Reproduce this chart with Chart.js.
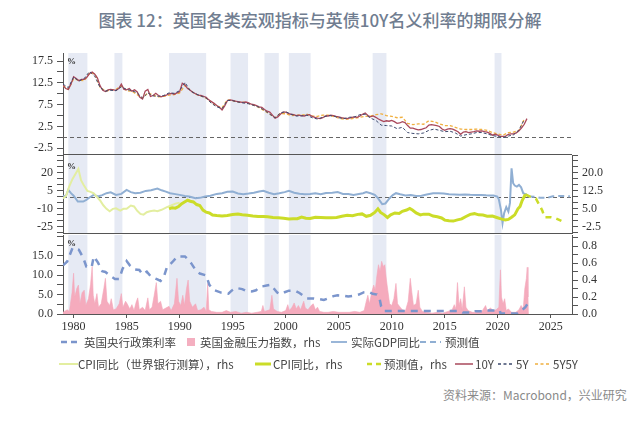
<!DOCTYPE html>
<html><head><meta charset="utf-8">
<script src="https://cdn.jsdelivr.net/npm/chart.js@4/dist/chart.umd.min.js"></script>
<style>
html,body{margin:0;padding:0;background:#fff;width:640px;height:428px;overflow:hidden;position:relative;font-family:"Noto Sans CJK SC","Noto Sans",sans-serif;}
#title{position:absolute;left:0;top:8px;width:640px;text-align:center;font-size:17px;color:#707d90;font-weight:500;line-height:24px;}
canvas{position:absolute;left:0;}
.lg{position:absolute;font-size:11.5px;color:#444;line-height:14px;white-space:nowrap;}
svg.mk{position:absolute;}
#src{position:absolute;left:443px;top:387px;font-size:12px;color:#8a8a8a;line-height:16px;white-space:nowrap;}
</style></head>
<body>
<div id="title">图表 12：英国各类宏观指标与英债10Y名义利率的期限分解</div>
<canvas id="c1" width="640" height="102" style="top:53px"></canvas>
<canvas id="c2" width="640" height="79" style="top:155px"></canvas>
<canvas id="c3" width="640" height="100" style="top:235px"></canvas>

<svg class="mk" style="left:61px;top:337px" width="18" height="10"><line x1="0" y1="5" x2="18" y2="5" stroke="#7b95cc" stroke-width="2.5" stroke-dasharray="6,4"/></svg>
<div class="lg" style="left:84px;top:335px">英国央行政策利率</div>
<div style="position:absolute;left:187px;top:338px;width:8px;height:8px;background:#f4afc0"></div>
<div class="lg" style="left:200px;top:335px">英国金融压力指数，rhs</div>
<svg class="mk" style="left:331px;top:337px" width="16" height="10"><line x1="0" y1="5" x2="16" y2="5" stroke="#9ab6d8" stroke-width="2"/></svg>
<div class="lg" style="left:351px;top:335px">实际GDP同比</div>
<svg class="mk" style="left:420px;top:337px" width="21" height="10"><line x1="0" y1="5" x2="21" y2="5" stroke="#90afd3" stroke-width="2" stroke-dasharray="6,4"/></svg>
<div class="lg" style="left:445px;top:335px">预测值</div>

<svg class="mk" style="left:59px;top:359px" width="19" height="10"><line x1="0" y1="5" x2="19" y2="5" stroke="#e3eea0" stroke-width="2"/></svg>
<div class="lg" style="left:78px;top:357px">CPI同比（世界银行测算），rhs</div>
<svg class="mk" style="left:255px;top:359px" width="16" height="10"><line x1="0" y1="5" x2="16" y2="5" stroke="#cbdc28" stroke-width="3"/></svg>
<div class="lg" style="left:273px;top:357px">CPI同比，rhs</div>
<svg class="mk" style="left:367px;top:359px" width="15" height="10"><line x1="0" y1="5" x2="15" y2="5" stroke="#cbdc28" stroke-width="2.5" stroke-dasharray="5,4"/></svg>
<div class="lg" style="left:384px;top:357px">预测值，rhs</div>
<svg class="mk" style="left:455px;top:359px" width="18" height="10"><line x1="0" y1="5" x2="18" y2="5" stroke="#a9485b" stroke-width="1.5"/></svg>
<div class="lg" style="left:475px;top:357px">10Y</div>
<svg class="mk" style="left:498px;top:359px" width="16" height="10"><line x1="0" y1="5" x2="16" y2="5" stroke="#3d4a6e" stroke-width="1.5" stroke-dasharray="3,2.5"/></svg>
<div class="lg" style="left:516px;top:357px">5Y</div>
<svg class="mk" style="left:535px;top:359px" width="16" height="10"><line x1="0" y1="5" x2="16" y2="5" stroke="#f0b040" stroke-width="1.5" stroke-dasharray="3,2.5"/></svg>
<div class="lg" style="left:553px;top:357px">5Y5Y</div>

<div id="src">资料来源：Macrobond，兴业研究</div>

<script>
// ---------- shared x / shading ----------
const xTickYears = [1980,1985,1990,1995,2000,2005,2010,2015,2020,2025];
const shadeStart = [1979.5,1983.85,1989.0,1994.8,1998.0,2000.3,2008.2,2019.7];
const shadeEnd   = [1981.3,1984.6,1992.5,1996.45,1999.35,2002.35,2009.5,2020.35];

// ---------- top panel: yields (%) ----------
const y10 = [
12.0,11.2,11.0,12.2, 13.9,13.5,13.0,13.3, 13.3,13.8,14.6,15.0, 14.5,13.6,11.8,10.8,
10.5,10.9,11.0,10.9, 10.8,11.2,12.2,11.0, 10.9,11.2,10.6,10.9, 10.4,9.2,8.8,10.6,
11.0,9.4,9.6,10.1, 9.6,9.3,9.5,9.7, 10.0,10.1,9.9,10.2, 10.5,12.4,12.0,11.2,
10.8,10.3,10.0,9.7, 9.6,9.4,9.2,8.6, 8.2,7.8,7.3,6.9, 6.3,7.2,8.4,8.6,
8.5,8.3,8.2,8.1, 8.0,8.1,7.9,7.6, 7.5,7.3,7.0,6.9, 6.4,6.0,5.8,5.1,
4.4,4.7,5.3,5.8, 5.8,5.5,5.3,5.2, 5.0,5.1,5.0,4.9, 5.1,5.2,4.8,4.6,
4.4,4.3,4.5,4.9, 4.9,5.1,5.0,4.8, 4.7,4.5,4.4,4.3, 4.4,4.6,4.7,4.6,
4.9,5.3,5.6,5.0, 4.7,4.9,4.6,4.2, 3.9,3.6,3.8,3.7, 3.9,3.6,3.2,3.3,
3.6,3.4,2.7,2.1, 2.1,1.9,1.7,1.8, 2.0,2.2,2.8,2.9, 2.8,2.7,2.5,1.9,
1.6,1.9,2.0,1.9, 1.6,1.3,0.7,1.2, 1.3,1.1,1.2,1.3, 1.5,1.4,1.5,1.3,
1.2,0.9,0.5,0.7, 0.5,0.2,0.2,0.3, 0.7,0.8,0.8,1.0, 1.5,2.2,3.0,4.3];
const y5 = [
12.2,11.4, 13.8,12.9, 13.5,15.1, 14.0,11.4, 10.6,10.8, 10.7,11.6, 11.0,10.7, 10.2,9.0,
10.2,9.5, 9.4,9.6, 10.2,10.1, 10.7,12.6, 10.7,10.0, 9.5,9.0, 7.8,7.0, 6.6,8.5,
8.4,8.1, 7.9,7.7, 7.3,6.9, 6.2,5.3, 4.5,5.6, 5.9,5.3, 4.9,4.9, 5.1,4.5,
4.2,4.6, 5.0,4.9, 4.5,4.3, 4.6,4.7, 5.2,5.3, 4.4,3.9, 2.8,2.7, 2.6,2.0,
2.3,1.1, 0.9,0.8, 1.0,1.6, 1.9,1.6, 1.3,1.4, 1.0,0.3, 0.6,0.8, 1.1,1.1,
0.8,0.4, 0.2,-0.05, 0.3,0.6, 1.7,4.1];
const y5y5 = [
11.8,11.0, 13.4,13.1, 13.0,14.7, 14.6,11.5, 10.6,10.9, 11.0,11.8, 10.7,10.6, 9.8,9.0,
10.2,9.7, 9.3,9.4, 9.7,9.8, 10.2,11.9, 10.8,9.9, 9.5,9.0, 8.0,7.2, 6.8,8.6,
8.4,8.1, 8.1,7.8, 7.4,6.8, 6.1,5.3, 4.5,5.5, 5.4,5.0, 5.1,5.1, 5.3,4.9,
4.8,5.1, 5.1,4.8, 4.4,4.2, 4.2,4.4, 4.6,4.8, 4.9,5.2, 5.4,5.0, 4.8,4.5,
4.6,3.2, 2.9,3.1, 3.0,3.8, 3.6,3.1, 2.7,2.7, 2.3,1.9, 1.8,1.8, 1.9,1.8,
1.6,1.1, 0.8,0.5, 1.1,1.2, 1.6,4.2];
const topTicks = [-2.5,0,2.5,5,7.5,10,12.5,15,17.5];
const topLabels = [-2.5,2.5,7.5,12.5,17.5];

// ---------- middle panel ----------
const gdpYears = [1979.0,1979.25,1979.5,1979.75,1980.0,1980.4,1980.9,1981.2,1981.5,1981.9,1982.3,1982.7,1983.1,1983.5,1984.0,1984.5,1985.0,1985.4,1985.8,1986.3,1986.8,1987.3,1987.9,1988.3,1988.7,1989.1,1989.6,1990.0,1990.5,1990.9,1991.5,1991.9,1992.4,1992.9,1993.5,1994.0,1994.5,1995.0,1995.5,1996.0,1996.5,1997.0,1997.5,1997.9,1998.4,1998.9,1999.4,1999.9,2000.3,2000.8,2001.3,2001.8,2002.3,2002.8,2003.3,2003.8,2004.4,2004.9,2005.4,2005.9,2006.4,2006.9,2007.3,2007.6,2008.0,2008.4,2008.7,2009.1,2009.4,2009.8,2010.1,2010.4,2010.8,2011.3,2011.8,2012.3,2012.8,2013.3,2013.9,2014.4,2014.9,2015.4,2015.9,2016.4,2016.9,2017.4,2017.9,2018.4,2018.9,2019.2,2019.6,2019.95,2020.1,2020.3,2020.45,2020.6,2020.8,2021.0,2021.15,2021.3,2021.45,2021.6,2021.8,2022.0,2022.2,2022.4,2022.7,2022.9];
const gdpValues = [1.0,0.3,5.8,3.1,1.0,-3.9,-3.9,-2.5,-0.5,1.7,0.3,1.5,3.1,3.8,1.7,2.5,5.8,4.0,3.1,3.5,5.0,5.5,7.0,5.5,4.4,3.1,2.3,1.7,0.8,0.3,-1.1,-0.8,0.3,1.0,2.5,3.1,4.2,4.4,2.8,2.3,2.8,3.5,4.5,5.1,3.5,2.3,3.0,4.0,5.0,3.5,2.6,2.2,2.5,3.1,2.3,3.3,3.5,4.0,2.5,2.5,1.7,2.5,3.0,4.0,3.0,1.7,-1.0,-6.1,-5.5,-1.1,1.5,3.1,2.2,1.2,1.5,0.8,1.0,2.0,3.1,3.0,2.8,2.3,2.0,1.7,2.0,1.7,1.5,1.6,1.3,1.2,1.1,0.3,-2.0,-10.8,-21.9,-13.6,-8.5,-12.2,-5.0,23.9,11.4,9.5,8.6,10.0,8.0,3.1,2.0,0.3];
const gdpFcYears = [2022.9,2023.5,2024.0,2024.6,2025.2,2026.0,2026.8];
const gdpFcValues = [0.3,0.0,-0.8,-0.8,0.5,0.8,0.5];
const cpiWbYears = [1979.0,1979.3,1979.6,1979.9,1980.2,1980.45,1980.7,1980.95,1981.3,1981.6,1981.9,1982.2,1982.5,1982.8,1983.1,1983.4,1983.7,1984.0,1984.4,1984.7,1985.0,1985.4,1985.7,1986.0,1986.3,1986.6,1986.9,1987.2,1987.6,1987.9,1988.3,1988.8,1989.2,1989.6,1990.0];
const cpiWbValues = [9.3,10.5,14.5,17.5,19.8,21.7,17.0,15.0,12.5,12.1,11.5,10.0,8.5,6.5,5.0,4.0,5.0,5.2,4.3,5.0,5.0,6.4,6.0,4.2,2.9,2.6,3.6,4.0,4.3,4.0,4.6,5.7,6.4,7.2,7.6];
const cpiYears = [1989.0,1989.3,1989.6,1989.9,1990.2,1990.5,1990.75,1991.0,1991.3,1991.6,1991.9,1992.2,1992.5,1992.8,1993.1,1993.5,1994.0,1994.5,1995.0,1995.5,1995.9,1996.4,1996.9,1997.4,1997.9,1998.3,1998.8,1999.3,1999.8,2000.3,2000.7,2001.1,2001.5,2001.9,2002.3,2002.8,2003.3,2003.8,2004.3,2004.8,2005.3,2005.8,2006.3,2006.8,2007.2,2007.6,2008.0,2008.4,2008.7,2008.95,2009.3,2009.6,2009.9,2010.3,2010.7,2011.0,2011.4,2011.7,2011.95,2012.3,2012.7,2013.0,2013.5,2013.9,2014.3,2014.7,2015.0,2015.4,2015.8,2016.2,2016.6,2017.0,2017.4,2017.8,2018.2,2018.6,2019.0,2019.5,2019.9,2020.3,2020.7,2021.0,2021.3,2021.6,2021.9,2022.1,2022.3,2022.6];
const cpiValues = [5.0,5.5,5.3,6.0,7.2,8.0,8.6,8.2,7.9,6.8,6.4,4.5,3.6,3.3,2.4,2.2,2.0,2.2,2.6,2.8,2.5,2.3,2.0,1.8,1.8,1.7,1.4,1.3,1.1,0.8,0.9,0.9,1.6,1.1,1.0,1.5,1.4,1.3,1.3,1.4,1.9,2.3,2.1,2.7,2.9,1.9,2.3,3.5,5.0,3.5,2.5,1.4,2.5,3.3,3.1,4.0,4.5,5.2,4.5,3.3,2.5,2.8,2.8,2.0,1.7,1.2,0.3,0.0,-0.1,0.4,0.8,1.8,2.7,3.0,2.5,2.4,1.9,2.0,1.4,0.8,0.4,0.6,1.5,2.5,5.0,6.0,8.5,11.0];
const cpiFcYears = [2022.6,2023.0,2023.6,2024.2,2024.4,2025.0,2025.5,2026.0];
const cpiFcValues = [11.0,10.2,9.3,4.3,1.5,1.5,1.0,0.0];
const midLeftTicks = [-30,-25,-20,-15,-10,-5,0,5,10,15,20,25,30,35];
const midLeftLabels = [-25,-10,5,20];
const midRightTicks = [-5,-2.5,0,2.5,5,7.5,10,12.5,15,17.5,20,22.5,25,27.5];
const midRightLabels = [-2.5,5,12.5,20];

// ---------- bottom panel ----------
const rateYears = [1979.0,1979.4,1979.9,1980.5,1980.9,1981.2,1981.7,1981.9,1982.3,1982.7,1983.0,1983.5,1983.9,1984.3,1984.6,1985.0,1985.3,1985.7,1986.2,1986.5,1986.9,1987.3,1987.8,1988.2,1988.5,1988.8,1989.3,1989.8,1990.5,1990.8,1991.1,1991.5,1991.9,1992.5,1992.8,1993.2,1993.9,1994.6,1994.9,1995.3,1995.9,1996.3,1996.8,1997.2,1997.6,1998.2,1998.6,1998.9,1999.2,1999.5,1999.9,2000.3,2000.9,2001.3,2001.7,2002.0,2002.6,2003.2,2003.6,2004.0,2004.5,2004.9,2005.5,2005.9,2006.5,2006.9,2007.4,2007.8,2008.2,2008.6,2008.85,2009.0,2009.25,2009.5,2012.0,2014.0,2016.5,2016.7,2017.8,2017.9,2018.6,2018.7,2020.2,2020.25,2021.9,2022.0,2022.3,2022.6,2022.9];
const rateValues = [12.5,13.5,17.0,16.5,14.5,12.2,12.0,14.8,13.2,11.0,10.8,9.7,9.0,9.0,11.5,13.6,12.5,11.5,11.3,10.2,10.9,9.6,9.0,8.5,9.5,12.0,13.3,14.8,14.8,14.0,13.0,11.3,10.4,9.9,7.5,6.2,5.5,5.2,6.0,6.7,6.4,5.9,5.8,6.1,7.0,7.3,7.5,6.5,5.5,5.1,5.6,6.0,6.0,5.4,4.6,4.0,4.0,3.8,3.6,4.0,4.6,4.8,4.7,4.5,4.7,5.0,5.6,5.7,5.2,5.0,4.0,2.0,0.8,0.8,0.8,0.8,0.8,0.4,0.4,0.7,0.7,0.9,0.9,0.15,0.15,0.5,1.0,1.75,3.0];
const fsiYears = [1979.0,1979.4,1979.6,1979.85,1980.0,1980.1,1980.3,1980.45,1980.6,1980.8,1981.0,1981.15,1981.4,1981.6,1981.75,1981.85,1982.0,1982.2,1982.35,1982.6,1982.85,1983.0,1983.15,1983.4,1983.55,1983.75,1984.0,1984.3,1984.5,1984.65,1984.9,1985.05,1985.3,1985.5,1985.7,1985.9,1986.05,1986.2,1986.5,1986.75,1987.0,1987.15,1987.4,1987.6,1987.8,1987.95,1988.2,1988.4,1988.7,1989.0,1989.2,1989.5,1989.75,1989.9,1990.1,1990.3,1990.45,1990.65,1990.8,1990.95,1991.2,1991.5,1991.7,1992.0,1992.3,1992.5,1992.65,1992.75,1993.0,1993.5,1994.0,1994.4,1994.8,1995.3,1995.8,1996.3,1996.8,1997.3,1997.7,1997.85,1998.0,1998.5,1998.7,1998.85,1999.2,1999.6,2000.0,2000.2,2000.35,2000.6,2000.8,2001.0,2001.2,2001.4,2001.7,2001.85,2002.1,2002.4,2002.6,2002.8,2003.0,2003.2,2003.6,2004.0,2004.5,2005.0,2005.5,2006.0,2006.5,2007.0,2007.4,2007.6,2007.75,2007.9,2008.1,2008.3,2008.45,2008.6,2008.75,2008.9,2009.05,2009.2,2009.35,2009.5,2009.65,2009.8,2010.0,2010.2,2010.4,2010.55,2010.8,2011.0,2011.3,2011.55,2011.75,2011.9,2012.05,2012.3,2012.5,2012.65,2012.9,2013.3,2013.8,2014.3,2014.8,2015.3,2015.7,2015.9,2016.05,2016.2,2016.35,2016.5,2016.65,2016.85,2017.0,2017.2,2017.6,2018.0,2018.5,2018.85,2019.0,2019.3,2019.6,2019.85,2020.1,2020.25,2020.35,2020.5,2020.65,2020.8,2021.0,2021.3,2021.7,2022.0,2022.2,2022.4,2022.55,2022.7,2022.78,2022.85,2022.9];
const fsiValues = [0.02,0.05,0.03,0.25,0.48,0.20,0.30,0.34,0.12,0.25,0.28,0.10,0.18,0.35,0.56,0.22,0.12,0.24,0.08,0.12,0.30,0.42,0.15,0.10,0.18,0.05,0.06,0.12,0.24,0.08,0.15,0.12,0.06,0.11,0.04,0.14,0.19,0.05,0.08,0.04,0.19,0.05,0.08,0.22,0.37,0.12,0.15,0.05,0.07,0.09,0.04,0.12,0.42,0.15,0.10,0.22,0.10,0.30,0.40,0.15,0.08,0.12,0.04,0.05,0.08,0.03,0.36,0.05,0.03,0.02,0.02,0.04,0.02,0.03,0.01,0.02,0.01,0.02,0.03,0.10,0.03,0.05,0.22,0.06,0.03,0.02,0.04,0.11,0.04,0.08,0.13,0.06,0.10,0.05,0.15,0.07,0.05,0.10,0.12,0.05,0.08,0.03,0.02,0.02,0.03,0.02,0.02,0.02,0.03,0.02,0.04,0.15,0.22,0.12,0.25,0.34,0.28,0.45,0.58,0.50,0.62,0.56,0.58,0.40,0.26,0.12,0.10,0.18,0.36,0.12,0.08,0.05,0.04,0.15,0.42,0.25,0.10,0.12,0.28,0.08,0.03,0.02,0.01,0.02,0.01,0.03,0.05,0.11,0.06,0.37,0.10,0.18,0.05,0.32,0.08,0.04,0.02,0.02,0.03,0.10,0.04,0.07,0.04,0.05,0.08,0.52,0.20,0.12,0.18,0.04,0.06,0.02,0.02,0.05,0.10,0.06,0.30,0.42,0.55,0.20,0.0];
const botLeftTicks = [0,2.5,5,7.5,10,12.5,15,17.5,20];
const botLeftLabels = [0,5,10,15];
const botRightTicks = [0,0.1,0.2,0.3,0.4,0.5,0.6,0.7,0.8,0.9];
const botRightLabels = [0,0.2,0.4,0.6,0.8];

// ---------- helpers ----------
const quarterYears = y10.map((_, i) => 1979 + i * 0.25);
const halfYears = y5.map((_, i) => 1979 + i * 0.5);
const pts = (xs, ys) => ys.map((v, i) => ({x: xs[i], y: v}));
const tickFont = {family: '"Liberation Serif","DejaVu Serif",serif', size: 12};

function xScale(show) {
  return {
    type: 'linear', min: 1979, max: 2027, display: show, bounds: 'data',
    afterBuildTicks: s => { s.ticks = xTickYears.map(v => ({value: v})); },
    afterFit: s => { if (show) s.height = 21; s.paddingLeft = s.paddingRight = s.paddingTop = s.paddingBottom = 0; },
    grid: {display: true, drawOnChartArea: false, drawTicks: true, tickLength: 4, color: '#555'},
    border: {display: true, color: '#555'},
    ticks: {font: {family: tickFont.family, size: 12}, color: '#333', padding: 2, maxRotation: 0, autoSkip: false, callback: v => String(v)}
  };
}
function yScale(pos, min, max, tickArr, labelArr, dec, width) {
  return {
    type: 'linear', position: pos, min: min, max: max, bounds: 'data',
    afterBuildTicks: s => { s.ticks = tickArr.map(v => ({value: v})); },
    afterFit: s => { s.width = width; s.paddingLeft = s.paddingRight = s.paddingTop = s.paddingBottom = 0; },
    grid: {drawOnChartArea: false, drawTicks: true, tickLength: 6, color: '#555'},
    border: {display: true, color: '#555'},
    ticks: {autoSkip: false, padding: 4, font: tickFont, color: '#333',
      callback: v => labelArr.some(l => Math.abs(l - v) < 1e-9) ? Number(v).toFixed(dec) : ''}
  };
}

const deco = {
  id: 'deco',
  beforeDatasetsDraw(chart, args, opts) {
    const {ctx, chartArea: a, scales} = chart;
    const x = scales.x;
    ctx.save();
    ctx.fillStyle = '#e6eaf4';
    shadeStart.forEach((s, i) => {
      const x0 = x.getPixelForValue(s), x1 = x.getPixelForValue(shadeEnd[i]);
      ctx.fillRect(x0, a.top, x1 - x0, a.bottom - a.top);
    });
    if (opts.zeroAxis) {
      const y = Math.round(scales[opts.zeroAxis].getPixelForValue(0)) + 0.5;
      ctx.strokeStyle = '#666'; ctx.lineWidth = 1; ctx.setLineDash([4, 3]);
      ctx.beginPath(); ctx.moveTo(a.left, y); ctx.lineTo(a.right, y); ctx.stroke();
    }
    ctx.restore();
  },
  afterDraw(chart, args, opts) {
    const {ctx, chartArea: a} = chart;
    ctx.save();
    if (opts.bottomLine) {
      ctx.strokeStyle = '#555'; ctx.lineWidth = 1;
      ctx.beginPath(); ctx.moveTo(a.left, a.bottom - 0.5); ctx.lineTo(a.right, a.bottom - 0.5); ctx.stroke();
    }
    ctx.fillStyle = '#333';
    ctx.font = 'bold 9px "Liberation Serif",serif';
    ctx.textBaseline = 'top';
    ctx.fillText('%', a.left + 4, a.top + (opts.pctY || 4));
    ctx.restore();
  }
};

const common = {
  responsive: false, animation: false, devicePixelRatio: 1,
  elements: {point: {radius: 0}, line: {tension: 0}},
};

// ---------- chart 1 ----------
new Chart(document.getElementById('c1'), {
  type: 'line',
  data: {datasets: [
    {label: '5Y', data: pts(halfYears, y5), borderColor: '#3d4a6e', borderWidth: 1, borderDash: [3, 2]},
    {label: '10Y', data: pts(quarterYears, y10), borderColor: '#a9485b', borderWidth: 1.3},
    {label: '5Y5Y', data: pts(halfYears, y5y5), borderColor: '#f0b040', borderWidth: 1.3, borderDash: [3, 2]}
  ]},
  options: Object.assign({}, common, {
    layout: {padding: {left: 0, right: 68, top: 0, bottom: 0}},
    scales: {x: xScale(false), y: yScale('left', -4.05, 19.35, topTicks, topLabels, 1, 63)},
    plugins: {legend: {display: false}, tooltip: {enabled: false}, deco: {zeroAxis: 'y', bottomLine: true, pctY: 4}}
  }),
  plugins: [deco]
});

// ---------- chart 2 ----------
new Chart(document.getElementById('c2'), {
  type: 'line',
  data: {datasets: [
    {label: 'CPI', data: pts(cpiYears, cpiValues), yAxisID: 'yR', borderColor: '#cbdc28', borderWidth: 3},
    {label: 'CPI WB', data: pts(cpiWbYears, cpiWbValues), yAxisID: 'yR', borderColor: '#e3eea0', borderWidth: 2},
    {label: 'CPI fc', data: pts(cpiFcYears, cpiFcValues), yAxisID: 'yR', borderColor: '#cbdc28', borderWidth: 2.5, borderDash: [6, 5]},
    {label: 'GDP', data: pts(gdpYears, gdpValues), yAxisID: 'yL', borderColor: '#90afd3', borderWidth: 2},
    {label: 'GDP fc', data: pts(gdpFcYears, gdpFcValues), yAxisID: 'yL', borderColor: '#90afd3', borderWidth: 2, borderDash: [6, 4]}
  ]},
  options: Object.assign({}, common, {
    layout: {padding: 0},
    scales: {
      x: xScale(false),
      yL: yScale('left', -31, 35, midLeftTicks, midLeftLabels, 0, 63),
      yR: yScale('right', -5.5, 27.5, midRightTicks, midRightLabels, 1, 68)
    },
    plugins: {legend: {display: false}, tooltip: {enabled: false}, deco: {zeroAxis: 'yL', bottomLine: true, pctY: 7}}
  }),
  plugins: [deco]
});

// ---------- chart 3 ----------
new Chart(document.getElementById('c3'), {
  type: 'line',
  data: {datasets: [
    {label: 'Bank rate', data: pts(rateYears, rateValues), yAxisID: 'yL', borderColor: '#7b95cc', borderWidth: 2.5, borderDash: [7, 6]},
    {label: 'FSI', data: pts(fsiYears, fsiValues), yAxisID: 'yR', borderColor: '#f3a8ba', borderWidth: 0.6, backgroundColor: '#f5abbd', fill: 'origin'}
  ]},
  options: Object.assign({}, common, {
    layout: {padding: 0},
    scales: {
      x: xScale(true),
      yL: yScale('left', 0, 20.3, botLeftTicks, botLeftLabels, 1, 63),
      yR: yScale('right', 0, 0.93, botRightTicks, botRightLabels, 1, 68)
    },
    plugins: {legend: {display: false}, tooltip: {enabled: false}, deco: {pctY: 4}}
  }),
  plugins: [deco]
});
</script>
</body></html>
